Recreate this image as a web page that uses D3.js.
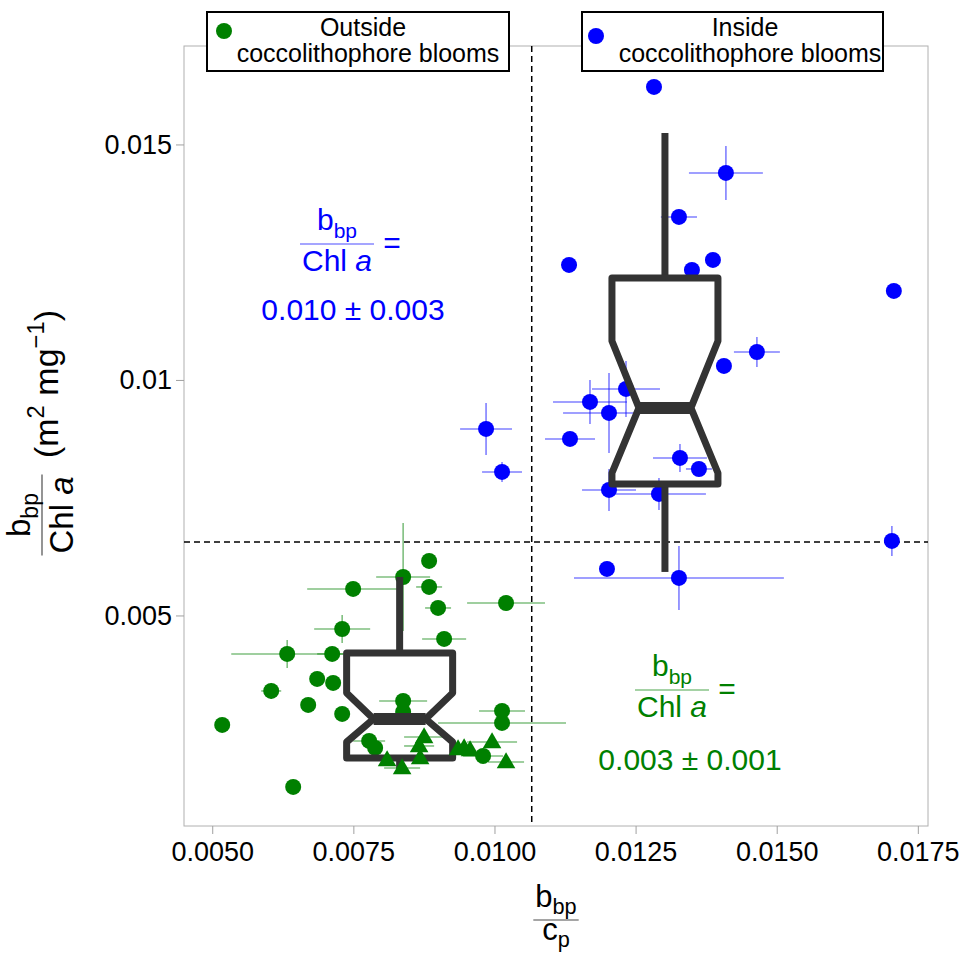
<!DOCTYPE html>
<html><head><meta charset="utf-8">
<script src="https://cdn.jsdelivr.net/npm/d3@7"></script>
<style>body{margin:0;background:#fff;} svg{display:block;font-family:"Liberation Sans",Arial,Helvetica,sans-serif;}</style>
</head><body><svg id="chart" width="965" height="957"></svg>
<script>
// ---------- data ----------
const insideX = [0.012826,0.0141,0.013268,0.011321,0.01387,0.013498,0.017075,0.014649,0.014065,0.01233,0.011692,0.012029,0.011338,0.013286,0.013622,0.012029,0.012914,0.01704,0.011993,0.013268,0.009851,0.010134];
const insideY = [0.016221,0.014395,0.013461,0.012442,0.012548,0.012335,0.01189,0.010594,0.010297,0.009809,0.009533,0.009299,0.008747,0.008344,0.00811,0.007665,0.00758,0.006582,0.005987,0.005796,0.00896,0.008047];
const insideXErr = [0,0.000655,0.00032,0.00014,0,0,0,0.000407,0,0.000602,0.000655,0.000814,0.000443,0.000478,0.00023,0.000478,0.000832,0,0,0.001859,0.00046,0.000354];
const insideYErr = [0,0.000573,0,0,0,0,0,0.000318,0,0.000594,0.000467,0.000849,0,0.000297,0,0.000446,0.00034,0.000318,0,0.000679,0.000552,0.000212];

const outsideX = [0.008842,0.008382,0.007496,0.008842,0.010205,0.009001,0.007302,0.009108,0.006328,0.007125,0.006859,0.007142,0.006045,0.0067,0.007302,0.005177,0.006434,0.008382,0.010134,0.010134,0.00778,0.007886,0.009798,0.008382];
const outsideY = [0.006157,0.005817,0.005563,0.005605,0.005265,0.005159,0.004713,0.004501,0.004183,0.004183,0.003652,0.003567,0.003397,0.0031,0.002909,0.002675,0.001359,0.003185,0.002973,0.002718,0.002336,0.002187,0.002017,0.002951];
const outsideXErr = [0,0.000478,0.000814,0.00023,0.00069,0.00023,0.000496,0.00039,0.000991,0.000266,0,0,0.000177,0,0,0,0,0.000425,0.000407,0.001133,0.000283,0,0.000354,0];
const outsideYErr = [0,0.001146,0,0,0,0,0.000297,0,0.000297,0,0,0,0.00017,0,0,0,0,0,0,0,0,0,0,0];

const outsideTriX = [0.008753,0.008665,0.008098,0.008364,0.008683,0.009355,0.009462,0.009568,0.009957,0.010205];
const outsideTriY = [0.002421,0.002229,0.001932,0.001762,0.001975,0.002166,0.002187,0.002145,0.002314,0.00189];
const outsideTriXErr = [0.000354,0.000266,0.00039,0.000319,0.000354,0,0,0,0.000443,0.000319];

const boxGroups = ["Outside", "Inside"];
const boxCenter = [0.00832, 0.01302];
const boxWhiskerLo = [0.00172, 0.005924];
const boxQ1 = [0.001975, 0.007792];
const boxNotchLo = [0.002314, 0.008025];
const boxMedian = [0.002803, 0.009406];
const boxNotchHi = [0.003355, 0.010828];
const boxQ3 = [0.004204, 0.012166];
const boxWhiskerHi = [0.005817, 0.015244];

const cutX = 0.01066;
const cutY = 0.00656;

const xTicks = [0.005, 0.0075, 0.01, 0.0125, 0.015, 0.0175];
const xTickLabels = ["0.0050", "0.0075", "0.0100", "0.0125", "0.0150", "0.0175"];
const yTicks = [0.005, 0.01, 0.015];
const yTickLabels = ["0.005", "0.01", "0.015"];

const legendLabels = [["Outside", "coccolithophore blooms"], ["Inside", "coccolithophore blooms"]];
const summaryText = ["0.003 \u00B1 0.001", "0.010 \u00B1 0.003"];

// ---------- layout ----------
const BLUE = "#0000ff", GREEN = "#008000", BOXC = "#333333";
const svg = d3.select("#chart");
const P = {l: 184, r: 928, t: 46, b: 826};
const x = d3.scaleLinear().domain([0.0045, 0.01768]).range([P.l, P.r]);
const y = d3.scaleLinear().domain([0.00053, 0.01709]).range([P.b, P.t]);

// panel frame
svg.append("rect").attr("x", P.l).attr("y", P.t).attr("width", P.r - P.l).attr("height", P.b - P.t)
  .attr("fill", "none").attr("stroke", "#b0b0b0").attr("stroke-width", 1);

// axes
const xAxis = svg.append("g").attr("transform", `translate(0,${P.b})`)
  .call(d3.axisBottom(x).tickValues(xTicks).tickFormat((d, i) => xTickLabels[i]).tickSize(8).tickPadding(8));
const yAxis = svg.append("g").attr("transform", `translate(${P.l},0)`)
  .call(d3.axisLeft(y).tickValues(yTicks).tickFormat((d, i) => yTickLabels[i]).tickSize(8).tickPadding(4));
[xAxis, yAxis].forEach(a => {
  a.select(".domain").remove();
  a.selectAll(".tick line").attr("stroke", "#a0a0a0");
  a.selectAll(".tick text").attr("fill", "#000").attr("font-size", 27)
    .attr("font-family", '"Liberation Sans",Arial,sans-serif');
});

// dashed threshold lines
svg.append("line").attr("x1", x(cutX)).attr("x2", x(cutX)).attr("y1", P.t).attr("y2", P.b)
  .attr("stroke", "#000").attr("stroke-width", 1.5).attr("stroke-dasharray", "6,4");
svg.append("line").attr("x1", P.l).attr("x2", P.r).attr("y1", y(cutY)).attr("y2", y(cutY))
  .attr("stroke", "#000").attr("stroke-width", 1.5).attr("stroke-dasharray", "6,4");

// ---------- points ----------
const plot = svg.append("g");
function errBars(xs, ys, xe, ye, color) {
  const g = plot.append("g").attr("stroke", color).attr("stroke-opacity", 0.5).attr("stroke-width", 1.6);
  xs.forEach((xv, i) => {
    if (xe && xe[i] > 0) g.append("line").attr("x1", x(xv - xe[i])).attr("x2", x(xv + xe[i])).attr("y1", y(ys[i])).attr("y2", y(ys[i]));
    if (ye && ye[i] > 0) g.append("line").attr("x1", x(xv)).attr("x2", x(xv)).attr("y1", y(ys[i] - ye[i])).attr("y2", y(ys[i] + ye[i]));
  });
}
errBars(insideX, insideY, insideXErr, insideYErr, BLUE);
errBars(outsideX, outsideY, outsideXErr, outsideYErr, GREEN);
errBars(outsideTriX, outsideTriY, outsideTriXErr, null, GREEN);

plot.append("g").selectAll("circle").data(insideX).join("circle")
  .attr("cx", d => x(d)).attr("cy", (d, i) => y(insideY[i])).attr("r", 8).attr("fill", BLUE);
plot.append("g").selectAll("circle").data(outsideX).join("circle")
  .attr("cx", d => x(d)).attr("cy", (d, i) => y(outsideY[i])).attr("r", 8).attr("fill", GREEN);

// ---------- notched boxes ----------
const HW = 53, NW = 26;
boxGroups.forEach((g, i) => {
  const cx = x(boxCenter[i]);
  const bg = svg.append("g").attr("stroke", BOXC).attr("fill", "none").attr("stroke-linejoin", "round");
  bg.append("line").attr("x1", cx).attr("x2", cx).attr("y1", y(boxWhiskerHi[i])).attr("y2", y(boxQ3[i])).attr("stroke-width", 7);
  bg.append("line").attr("x1", cx).attr("x2", cx).attr("y1", y(boxQ1[i])).attr("y2", y(boxWhiskerLo[i])).attr("stroke-width", 7);
  const pts = [
    [cx - HW, y(boxQ3[i])], [cx + HW, y(boxQ3[i])], [cx + HW, y(boxNotchHi[i])], [cx + NW, y(boxMedian[i])],
    [cx + HW, y(boxNotchLo[i])], [cx + HW, y(boxQ1[i])], [cx - HW, y(boxQ1[i])], [cx - HW, y(boxNotchLo[i])],
    [cx - NW, y(boxMedian[i])], [cx - HW, y(boxNotchHi[i])]
  ];
  bg.append("path").attr("d", d3.line()(pts) + "Z").attr("fill", "rgba(255,255,255,0)").attr("stroke-width", 7);
  bg.append("line").attr("x1", cx - NW).attr("x2", cx + NW).attr("y1", y(boxMedian[i])).attr("y2", y(boxMedian[i])).attr("stroke-width", 12);
});

// triangles on top
const tri = d3.symbol().type(d3.symbolTriangle).size(150);
svg.append("g").selectAll("path").data(outsideTriX).join("path")
  .attr("d", tri).attr("transform", (d, i) => `translate(${x(d)},${y(outsideTriY[i]) + 1})`).attr("fill", GREEN);

// ---------- rich text helpers ----------
function rich(sel, parts, fs, subShift) {
  let shift = 0;
  const ss = subShift == null ? 0.28 : subShift;
  parts.forEach(p => {
    const target = p.sub ? fs * ss : p.sup ? -fs * 0.42 : 0;
    const ts = sel.append("tspan").text(p.t).attr("dy", target - shift);
    if (p.sub || p.sup) ts.attr("font-size", fs * 0.7);
    if (p.it) ts.attr("font-style", "italic");
    shift = target;
  });
  return sel;
}
const numBbp = [{t: "b"}, {t: "bp", sub: true}];
const denChl = [{t: "Chl "}, {t: "a", it: true}];
function fraction(g, cx, lineY, fs, color, num, den, numGap, denGap, subShift) {
  const n = rich(g.append("text").attr("x", cx).attr("y", lineY - numGap).attr("text-anchor", "middle").attr("font-size", fs).attr("fill", color), num, fs, subShift);
  const d = rich(g.append("text").attr("x", cx).attr("y", lineY + denGap).attr("text-anchor", "middle").attr("font-size", fs).attr("fill", color), den, fs, subShift);
  const w = Math.max(n.node().getComputedTextLength(), d.node().getComputedTextLength()) + 4;
  g.append("line").attr("x1", cx - w / 2).attr("x2", cx + w / 2).attr("y1", lineY).attr("y2", lineY).attr("stroke", color).attr("stroke-width", 1.2).attr("stroke-opacity", 0.7);
}

// annotations
const annBlue = svg.append("g");
fraction(annBlue, 337, 244, 30, BLUE, numBbp, denChl, 14, 27);
annBlue.append("text").attr("x", 392).attr("y", 253).attr("text-anchor", "middle").attr("font-size", 30).attr("fill", BLUE).text("=");
annBlue.append("text").attr("x", 353).attr("y", 320).attr("text-anchor", "middle").attr("font-size", 30).attr("fill", BLUE).text(summaryText[1]);

const annGreen = svg.append("g");
fraction(annGreen, 672, 690, 30, GREEN, numBbp, denChl, 14, 27);
annGreen.append("text").attr("x", 727).attr("y", 699).attr("text-anchor", "middle").attr("font-size", 30).attr("fill", GREEN).text("=");
annGreen.append("text").attr("x", 690).attr("y", 770).attr("text-anchor", "middle").attr("font-size", 30).attr("fill", GREEN).text(summaryText[0]);

// x axis label
const xl = svg.append("g");
fraction(xl, 556, 920, 31, "#000", numBbp, [{t: "c"}, {t: "p", sub: true}], 13, 20, 0.24);

// y axis label (rotated)
const yl = svg.append("g").attr("transform", "translate(42,436) rotate(-90)");
fraction(yl, -79, 0, 33, "#000", numBbp, denChl, 12, 31, 0.24);
rich(yl.append("text").attr("x", 52).attr("y", 16).attr("text-anchor", "middle").attr("font-size", 34).attr("fill", "#000"),
  [{t: "(m"}, {t: "2", sup: true}, {t: " mg"}, {t: "\u22121", sup: true}, {t: ")"}], 34);

// ---------- legends ----------
const legBoxes = [{x0: 207, x1: 509, cx: 363, mx: 224, my: 31, c: GREEN}, {x0: 582, x1: 883, cx: 745, mx: 596, my: 36, c: BLUE}];
legendLabels.forEach((lab, i) => {
  const b = legBoxes[i];
  const g = svg.append("g");
  g.append("rect").attr("x", b.x0).attr("y", 12).attr("width", b.x1 - b.x0).attr("height", 59)
    .attr("fill", "#fff").attr("stroke", "#000").attr("stroke-width", 2);
  g.append("circle").attr("cx", b.mx).attr("cy", b.my).attr("r", 8).attr("fill", b.c);
  g.append("text").attr("x", b.cx).attr("y", 36).attr("text-anchor", "middle").attr("font-size", 25).text(lab[0]);
  g.append("text").attr("x", b.cx + 5).attr("y", 62).attr("text-anchor", "middle").attr("font-size", 25).text(lab[1]);
});
</script></body></html>
